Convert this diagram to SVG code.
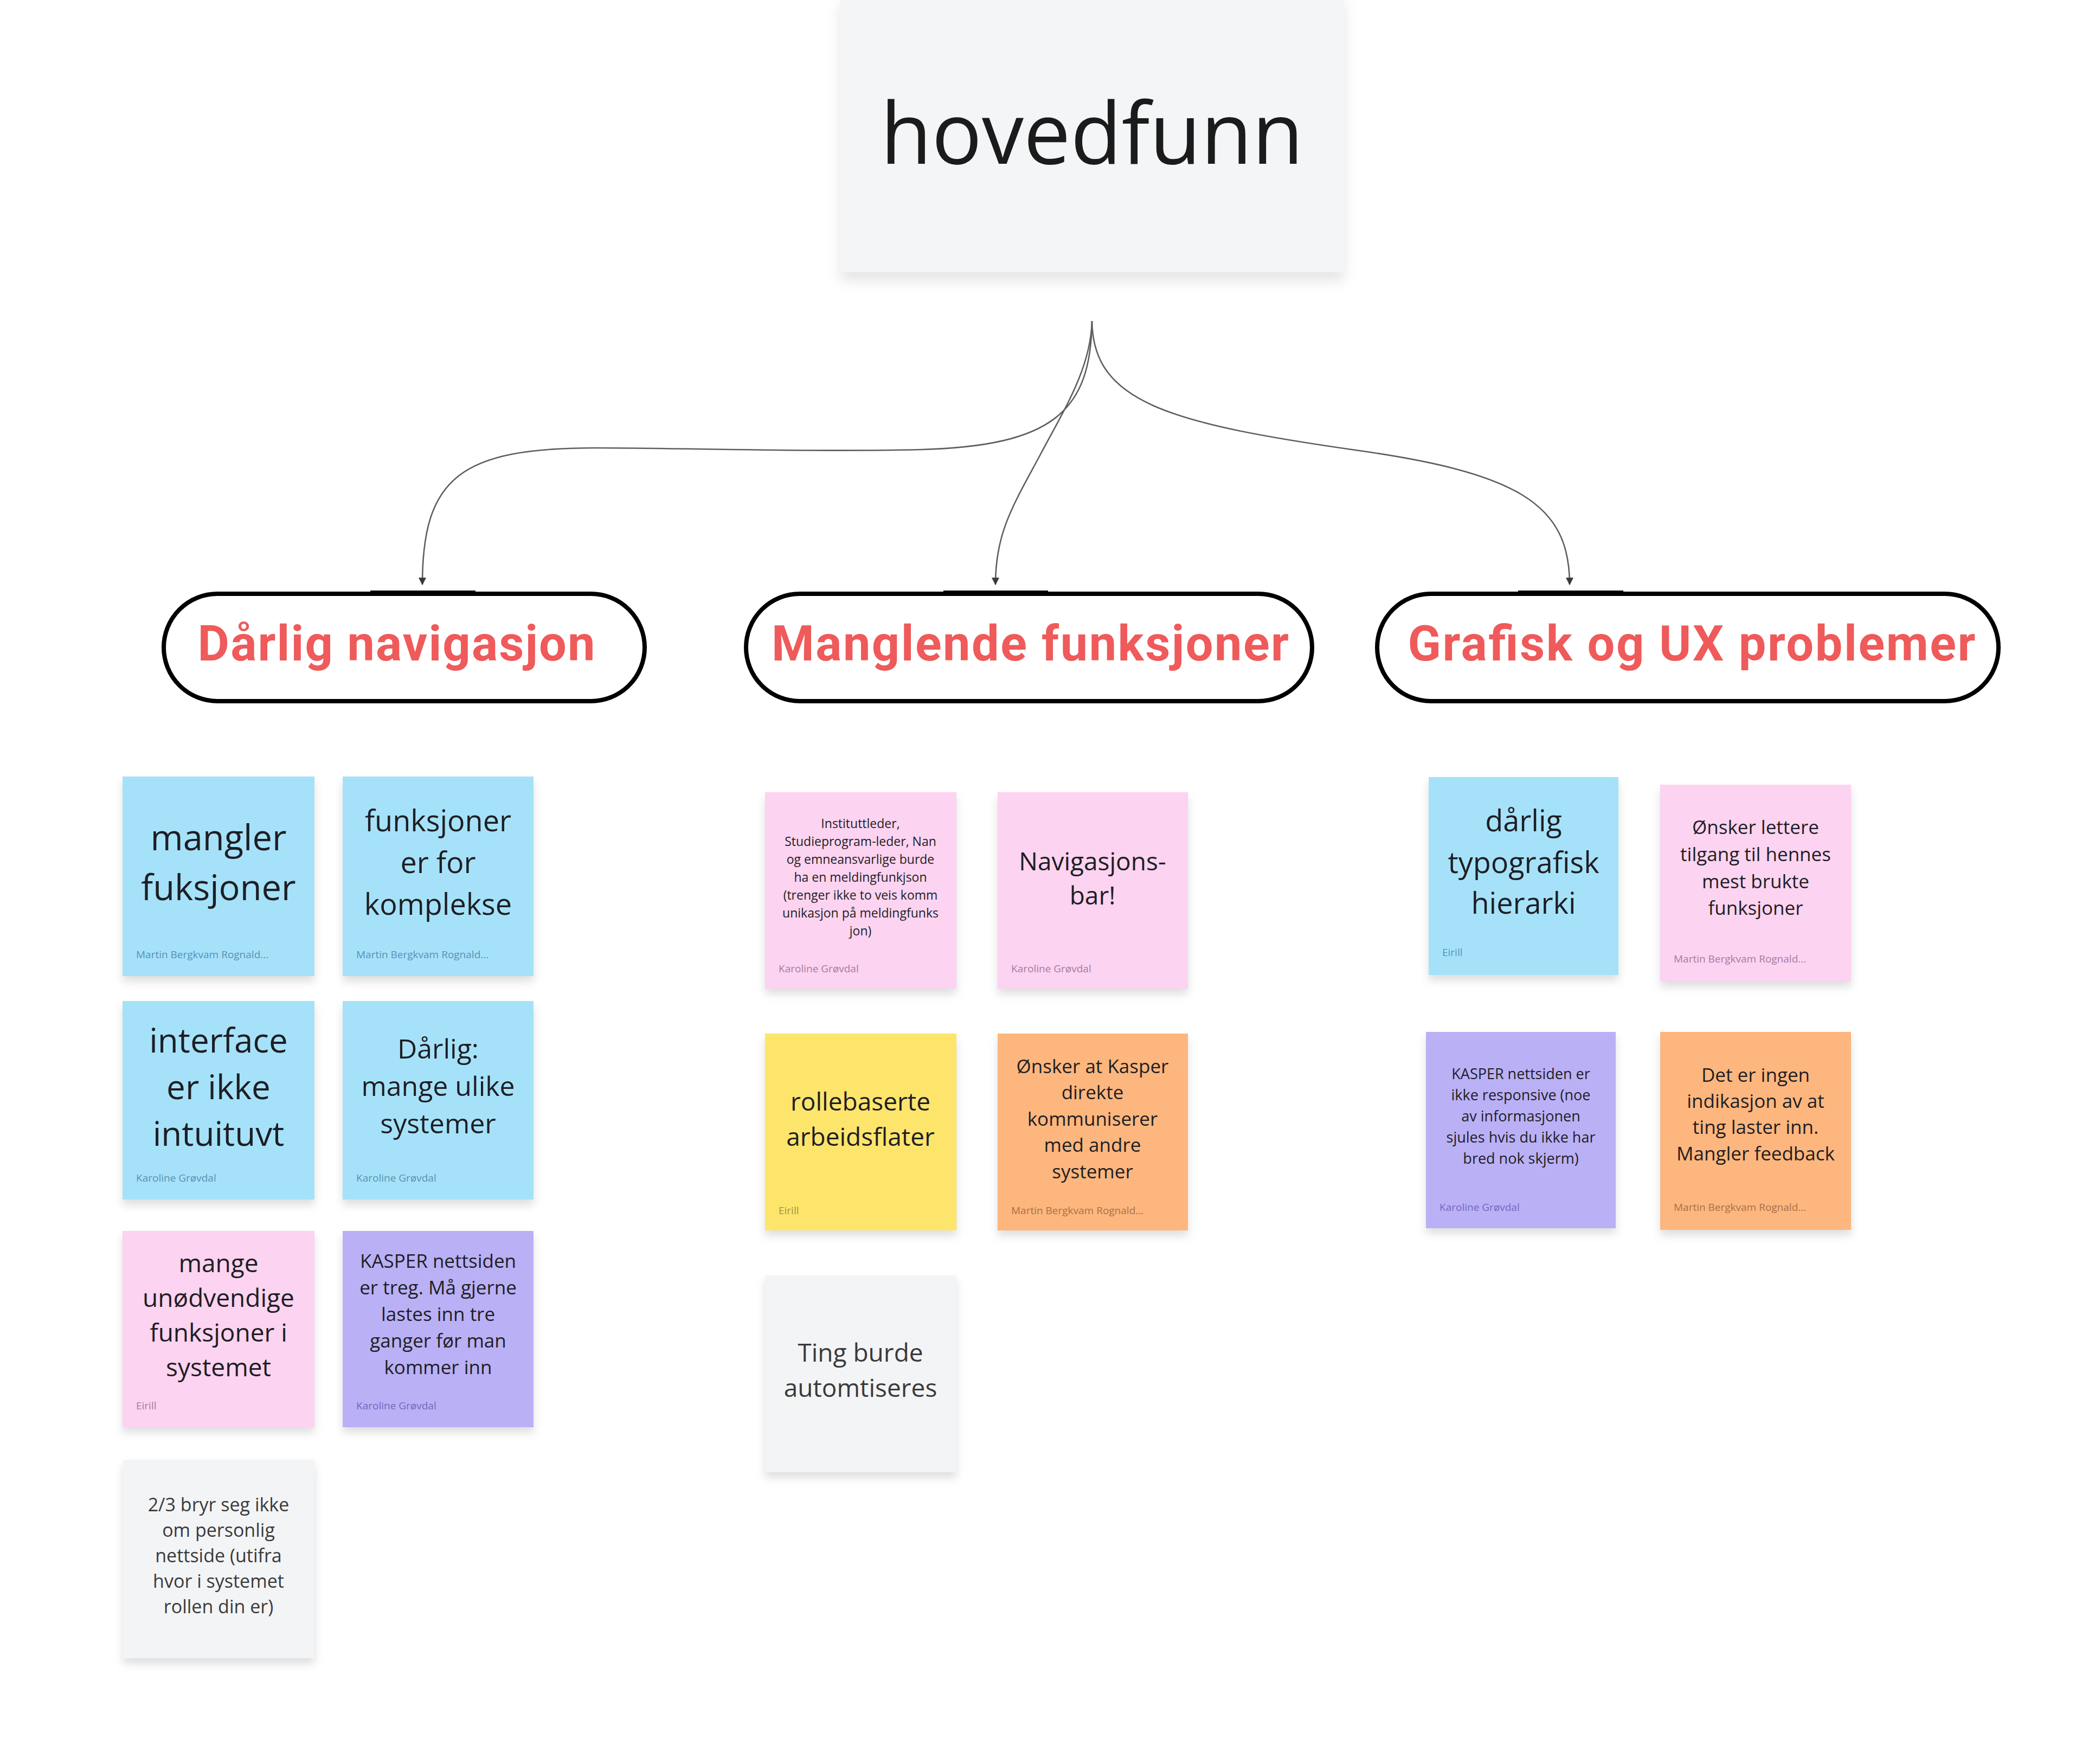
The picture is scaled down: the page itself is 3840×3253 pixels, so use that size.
<svg xmlns="http://www.w3.org/2000/svg" width="3840" height="3253" viewBox="0 0 3840 3253">
<style>
  .bg { fill: #ffffff; }
  .note-rect { filter: url(#sh); }
  .blue { fill: #a5e2f9; }
  .pink { fill: #fcd3f0; }
  .purple { fill: #bab0f6; }
  .yellow { fill: #fde56c; }
  .orange { fill: #fdb67d; }
  .grey { fill: #f3f4f6; }
  .txt { font-family: "Open Sans", "Noto Sans", sans-serif; fill: #1e1e24; text-anchor: middle; }
  .gtxt { font-family: "Open Sans", "Noto Sans", sans-serif; fill: #3a3a3a; text-anchor: middle; }
  .auth { font-family: "Open Sans", "Noto Sans", sans-serif; font-size: 19px; text-anchor: start; }
  .a-blue { fill: #5b8fb6; }
  .a-pink { fill: #a47ca2; }
  .a-purple { fill: #7467bf; }
  .a-yellow { fill: #a09343; }
  .a-orange { fill: #a6714c; }
  .pill { fill: #ffffff; stroke: #000000; stroke-width: 8; }
  .pill-snap { stroke: #000000; stroke-width: 10; }
  .pill-txt { font-family: Roboto, "Liberation Sans", sans-serif; font-weight: 700; font-size: 90px; fill: #ef5a5a; text-anchor: middle; }
  .conn { fill: none; stroke: #5e5e5e; stroke-width: 2.6; marker-end: url(#arr); }
</style>
<defs>
  <filter id="sh" x="-10%" y="-10%" width="120%" height="130%">
    <feDropShadow dx="0" dy="10" stdDeviation="8" flood-color="#000000" flood-opacity="0.13"/>
  </filter>
  <filter id="shT" x="-10%" y="-10%" width="120%" height="130%">
    <feDropShadow dx="0" dy="16" stdDeviation="12" flood-color="#000000" flood-opacity="0.10"/>
  </filter>
  <marker id="arr" viewBox="0 0 12 12" refX="11" refY="6" markerWidth="14" markerHeight="14" orient="auto" markerUnits="userSpaceOnUse">
    <path d="M0,0 L12,6 L0,12 Z" fill="#3a3a3a"/>
  </marker>
</defs>
<rect class="bg" x="0" y="0" width="3840" height="3253"/>

<g id="title">
  <rect x="1550" y="-10" width="929" height="512" fill="#f4f5f7" filter="url(#shT)"/>
  <text x="2014" y="302" font-family="'Open Sans', 'Noto Sans', sans-serif" font-size="158" fill="#1b1b1b" text-anchor="middle" textLength="780" lengthAdjust="spacingAndGlyphs">hovedfunn</text>
</g>

<g id="connectors">
  <path class="conn" d="M2014,592 C2012,760 1940,822 1700,829 C1500,834 1250,826 1100,826 C850,826 779,880 779,1078"/>
  <path class="conn" d="M2014,592 C2012,680 1960,760 1920,836 C1870,930 1836,980 1836,1078"/>
  <path class="conn" d="M2014,592 C2016,740 2150,780 2500,830 C2800,872 2895,930 2895,1078"/>
</g>

<g id="cat-navigasjon">
  <rect class="pill" x="302" y="1095" width="887" height="198" rx="99" ry="99"/>
  <line class="pill-snap" x1="683" y1="1094" x2="877" y2="1094"/>
  <text class="pill-txt" x="731" y="1218" textLength="733">Dårlig navigasjon</text>
</g>
<g id="cat-funksjoner">
  <rect class="pill" x="1376" y="1095" width="1044" height="198" rx="99" ry="99"/>
  <line class="pill-snap" x1="1740" y1="1094" x2="1933" y2="1094"/>
  <text class="pill-txt" x="1900" y="1218" textLength="954">Manglende funksjoner</text>
</g>
<g id="cat-grafisk">
  <rect class="pill" x="2540" y="1095" width="1146" height="198" rx="99" ry="99"/>
  <line class="pill-snap" x1="2800" y1="1094" x2="2994" y2="1094"/>
  <text class="pill-txt" x="3120" y="1218" textLength="1047">Grafisk og UX problemer</text>
</g>

<!-- Left column -->
<g id="note-mangler-fuksjoner">
  <rect class="note-rect blue" x="226" y="1432" width="354" height="368"/>
  <text class="txt" x="403" font-size="65"><tspan x="403" y="1568">mangler</tspan><tspan x="403" y="1660">fuksjoner</tspan></text>
  <text class="auth a-blue" x="251" y="1767">Martin Bergkvam Rognald...</text>
</g>
<g id="note-funksjoner-komplekse">
  <rect class="note-rect blue" x="632" y="1432" width="352" height="368"/>
  <text class="txt" x="808" font-size="54"><tspan x="808" y="1533">funksjoner</tspan><tspan x="808" y="1610">er for</tspan><tspan x="808" y="1687">komplekse</tspan></text>
  <text class="auth a-blue" x="657" y="1767">Martin Bergkvam Rognald...</text>
</g>
<g id="note-interface">
  <rect class="note-rect blue" x="226" y="1846" width="354" height="366"/>
  <text class="txt" x="403" font-size="62"><tspan x="403" y="1941">interface</tspan><tspan x="403" y="2027">er ikke</tspan><tspan x="403" y="2113">intuituvt</tspan></text>
  <text class="auth a-blue" x="251" y="2179">Karoline Grøvdal</text>
</g>
<g id="note-darlig-systemer">
  <rect class="note-rect blue" x="632" y="1846" width="352" height="366"/>
  <text class="txt" x="808" font-size="50"><tspan x="808" y="1952">Dårlig:</tspan><tspan x="808" y="2021">mange ulike</tspan><tspan x="808" y="2090">systemer</tspan></text>
  <text class="auth a-blue" x="657" y="2179">Karoline Grøvdal</text>
</g>
<g id="note-unodvendige">
  <rect class="note-rect pink" x="226" y="2270" width="354" height="362"/>
  <text class="txt" x="403" font-size="46"><tspan x="403" y="2346">mange</tspan><tspan x="403" y="2410">unødvendige</tspan><tspan x="403" y="2474">funksjoner i</tspan><tspan x="403" y="2538">systemet</tspan></text>
  <text class="auth a-pink" x="251" y="2599">Eirill</text>
</g>
<g id="note-kasper-treg">
  <rect class="note-rect purple" x="632" y="2270" width="352" height="362"/>
  <text class="txt" x="808" font-size="35"><tspan x="808" y="2338">KASPER nettsiden</tspan><tspan x="808" y="2387">er treg. Må gjerne</tspan><tspan x="808" y="2436">lastes inn tre</tspan><tspan x="808" y="2485">ganger før man</tspan><tspan x="808" y="2534">kommer inn</tspan></text>
  <text class="auth a-purple" x="657" y="2599">Karoline Grøvdal</text>
</g>
<g id="note-personlig-nettside">
  <rect class="note-rect grey" x="227" y="2692" width="353" height="366"/>
  <text class="gtxt" x="403" font-size="34"><tspan x="403" y="2787">2/3 bryr seg ikke</tspan><tspan x="403" y="2834">om personlig</tspan><tspan x="403" y="2881">nettside (utifra</tspan><tspan x="403" y="2928">hvor i systemet</tspan><tspan x="403" y="2975">rollen din er)</tspan></text>
</g>

<!-- Middle column -->
<g id="note-meldingfunksjon">
  <rect class="note-rect pink" x="1411" y="1461" width="353" height="362"/>
  <text class="txt" x="1587" font-size="23"><tspan x="1587" y="1527">Instituttleder,</tspan><tspan x="1587" y="1560">Studieprogram-leder, Nan</tspan><tspan x="1587" y="1593">og emneansvarlige burde</tspan><tspan x="1587" y="1626">ha en meldingfunkjson</tspan><tspan x="1587" y="1659">(trenger ikke to veis komm</tspan><tspan x="1587" y="1692">unikasjon på meldingfunks</tspan><tspan x="1587" y="1725">jon)</tspan></text>
  <text class="auth a-pink" x="1436" y="1793">Karoline Grøvdal</text>
</g>
<g id="note-navigasjonsbar">
  <rect class="note-rect pink" x="1840" y="1461" width="351" height="362"/>
  <text class="txt" x="2015" font-size="46"><tspan x="2015" y="1605">Navigasjons-</tspan><tspan x="2015" y="1668">bar!</tspan></text>
  <text class="auth a-pink" x="1865" y="1793">Karoline Grøvdal</text>
</g>
<g id="note-rollebaserte">
  <rect class="note-rect yellow" x="1411" y="1906" width="353" height="363"/>
  <text class="txt" x="1587" font-size="46"><tspan x="1587" y="2048">rollebaserte</tspan><tspan x="1587" y="2113">arbeidsflater</tspan></text>
  <text class="auth a-yellow" x="1436" y="2239">Eirill</text>
</g>
<g id="note-kasper-kommuniserer">
  <rect class="note-rect orange" x="1840" y="1906" width="351" height="363"/>
  <text class="txt" x="2015" font-size="35"><tspan x="2015" y="1979">Ønsker at Kasper</tspan><tspan x="2015" y="2027">direkte</tspan><tspan x="2015" y="2076">kommuniserer</tspan><tspan x="2015" y="2124">med andre</tspan><tspan x="2015" y="2173">systemer</tspan></text>
  <text class="auth a-orange" x="1865" y="2239">Martin Bergkvam Rognald...</text>
</g>
<g id="note-automtiseres">
  <rect class="note-rect grey" x="1411" y="2352" width="353" height="363"/>
  <text class="gtxt" x="1587" font-size="46"><tspan x="1587" y="2511">Ting burde</tspan><tspan x="1587" y="2576">automtiseres</tspan></text>
</g>

<!-- Right column -->
<g id="note-typografisk">
  <rect class="note-rect blue" x="2635" y="1433" width="350" height="365"/>
  <text class="txt" x="2810" font-size="54"><tspan x="2810" y="1533">dårlig</tspan><tspan x="2810" y="1610">typografisk</tspan><tspan x="2810" y="1685">hierarki</tspan></text>
  <text class="auth a-blue" x="2660" y="1763">Eirill</text>
</g>
<g id="note-lettere-tilgang">
  <rect class="note-rect pink" x="3062" y="1447" width="352" height="363"/>
  <text class="txt" x="3238" font-size="35"><tspan x="3238" y="1538">Ønsker lettere</tspan><tspan x="3238" y="1588">tilgang til hennes</tspan><tspan x="3238" y="1638">mest brukte</tspan><tspan x="3238" y="1687">funksjoner</tspan></text>
  <text class="auth a-pink" x="3087" y="1775">Martin Bergkvam Rognald...</text>
</g>
<g id="note-responsive">
  <rect class="note-rect purple" x="2630" y="1903" width="350" height="362"/>
  <text class="txt" x="2805" font-size="27"><tspan x="2805" y="1990">KASPER nettsiden er</tspan><tspan x="2805" y="2029">ikke responsive (noe</tspan><tspan x="2805" y="2068">av informasjonen</tspan><tspan x="2805" y="2107">sjules hvis du ikke har</tspan><tspan x="2805" y="2146">bred nok skjerm)</tspan></text>
  <text class="auth a-purple" x="2655" y="2233">Karoline Grøvdal</text>
</g>
<g id="note-feedback">
  <rect class="note-rect orange" x="3062" y="1903" width="352" height="365"/>
  <text class="txt" x="3238" font-size="35"><tspan x="3238" y="1995">Det er ingen</tspan><tspan x="3238" y="2043">indikasjon av at</tspan><tspan x="3238" y="2091">ting laster inn.</tspan><tspan x="3238" y="2140">Mangler feedback</tspan></text>
  <text class="auth a-orange" x="3087" y="2233">Martin Bergkvam Rognald...</text>
</g>
</svg>
